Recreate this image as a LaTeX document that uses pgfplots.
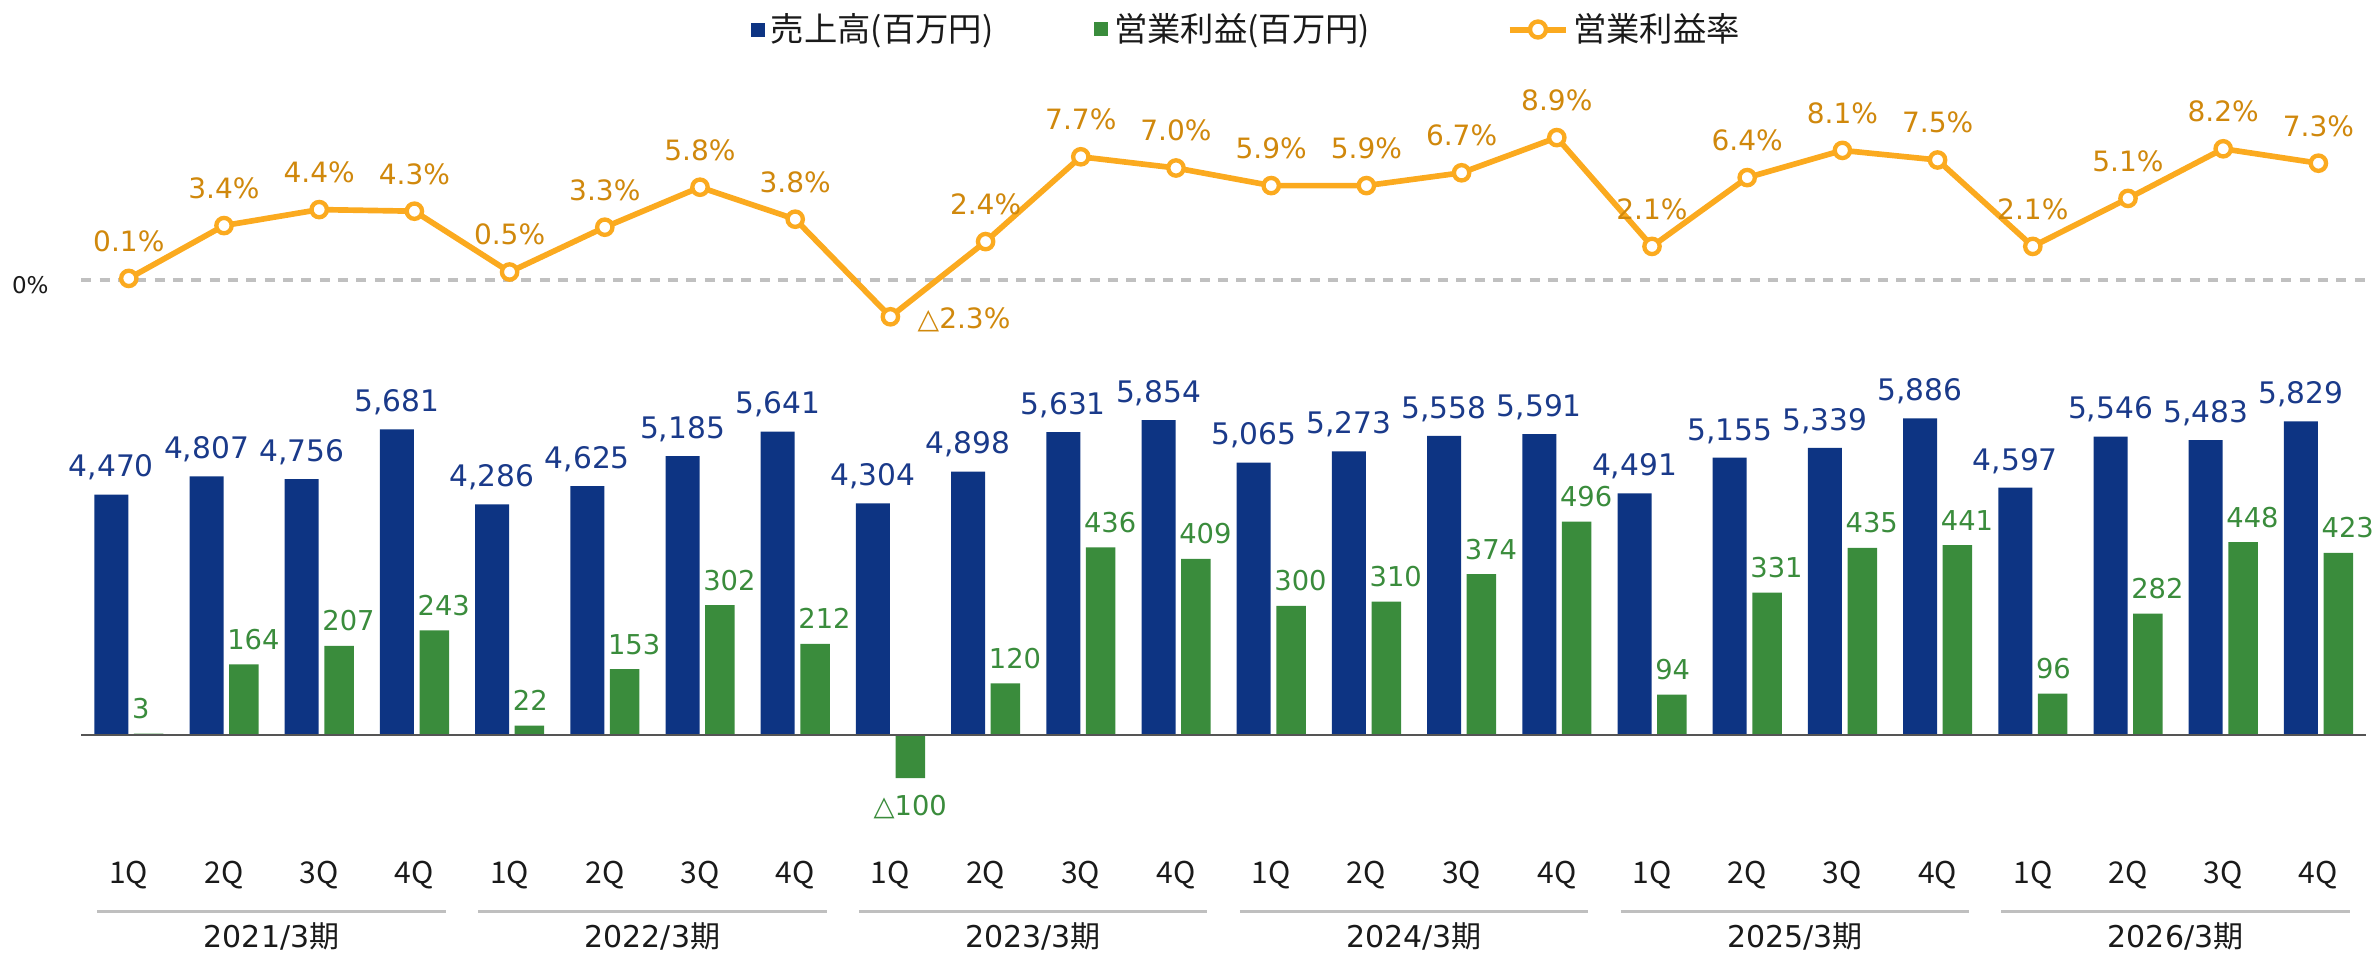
\documentclass[border=0pt]{standalone}
\usepackage{fontspec}
\setmainfont{DejaVu Sans}
\newfontfamily\jp{Noto Sans CJK JP}
\usepackage{pgfplots}
\pgfplotsset{compat=1.18}
\usepackage{pgfplotstable}

\definecolor{cBlue}{HTML}{0D3483}
\definecolor{cBlueT}{HTML}{1A3A8A}
\definecolor{cGreen}{HTML}{3A8C3C}
\definecolor{cGreenT}{HTML}{3A8C3C}
\definecolor{cOrange}{HTML}{FBAA1F}
\definecolor{cOrangeT}{HTML}{D0880C}
\definecolor{cDash}{HTML}{C0C0C0}
\definecolor{cGroup}{HTML}{BFBFBF}
\definecolor{cBase}{HTML}{555555}
\definecolor{cText}{HTML}{1A1A1A}

\pgfplotstableread{
x rev revlab prof proflab mar marlab
0 4470 4,470 3 3 0.1 0.1
1 4807 4,807 164 164 3.4 3.4
2 4756 4,756 207 207 4.4 4.4
3 5681 5,681 243 243 4.3 4.3
4 4286 4,286 22 22 0.5 0.5
5 4625 4,625 153 153 3.3 3.3
6 5185 5,185 302 302 5.8 5.8
7 5641 5,641 212 212 3.8 3.8
8 4304 4,304 -100 △100 -2.3 △2.3
9 4898 4,898 120 120 2.4 2.4
10 5631 5,631 436 436 7.7 7.7
11 5854 5,854 409 409 7.0 7.0
12 5065 5,065 300 300 5.9 5.9
13 5273 5,273 310 310 5.9 5.9
14 5558 5,558 374 374 6.7 6.7
15 5591 5,591 496 496 8.9 8.9
16 4491 4,491 94 94 2.1 2.1
17 5155 5,155 331 331 6.4 6.4
18 5339 5,339 435 435 8.1 8.1
19 5886 5,886 441 441 7.5 7.5
20 4597 4,597 96 96 2.1 2.1
21 5546 5,546 282 282 5.1 5.1
22 5483 5,483 448 448 8.2 8.2
23 5829 5,829 423 423 7.3 7.3
}\data

\begin{document}
\begin{tikzpicture}
\path[use as bounding box] (0,0) rectangle (713.1pt,286.8pt);

% ---------- revenue bars ----------
\begin{axis}[
  at={(24.36pt,42.09pt)}, anchor=south west,
  scale only axis, width=685.44pt, height=129.12pt,
  xmin=-0.5, xmax=23.5, ymin=-1500, ymax=6500,
  axis line style={draw=none}, ytick=\empty,
  xtick={0,...,23},
  xticklabels={1Q,2Q,3Q,4Q,1Q,2Q,3Q,4Q,1Q,2Q,3Q,4Q,1Q,2Q,3Q,4Q,1Q,2Q,3Q,4Q,1Q,2Q,3Q,4Q},
  major tick length=0pt,
  xticklabel style={font=\jp\fontsize{9}{10}\selectfont, anchor=base, yshift=-20.19pt, text=cText},
  clip=false,
  legend style={at={(0.29315,1.8267)}, anchor=west, draw=none, fill=none,
    inner sep=0pt, outer sep=0pt, nodes={inner sep=0pt},
    font=\jp\fontsize{10}{12}\selectfont, text=cText},
]
\addplot[ybar, bar width=10.2pt, bar shift=-5.25pt, fill=cBlue, draw=none,
  legend image code/.code={\fill[cBlue] (0pt,-2.1pt) rectangle (4.2pt,2.1pt); \path (6pt,0pt);}]
  table[x=x,y=rev]{\data};
\addlegendentry{売上高(百万円)}
\addplot[draw=none, mark=none, forget plot, nodes near coords, point meta=explicit symbolic,
  nodes near coords style={anchor=base, xshift=-5.25pt, yshift=5.3pt, inner sep=0pt,
    font=\fontsize{8.9}{10}\selectfont, text=cBlueT}]
  table[x=x,y=rev,meta=revlab]{\data};
% fiscal-year groups
\draw[cGroup, line width=0.8pt] (axis cs:-0.33,-3284) -- (axis cs:3.33,-3284);
\draw[cGroup, line width=0.8pt] (axis cs:3.67,-3284) -- (axis cs:7.33,-3284);
\draw[cGroup, line width=0.8pt] (axis cs:7.67,-3284) -- (axis cs:11.33,-3284);
\draw[cGroup, line width=0.8pt] (axis cs:11.67,-3284) -- (axis cs:15.33,-3284);
\draw[cGroup, line width=0.8pt] (axis cs:15.67,-3284) -- (axis cs:19.33,-3284);
\draw[cGroup, line width=0.8pt] (axis cs:19.67,-3284) -- (axis cs:23.33,-3284);
\node[anchor=base, font=\fontsize{9}{10}\selectfont, text=cText] at (axis cs:1.5,-3959) {2021/3{\jp 期}};
\node[anchor=base, font=\fontsize{9}{10}\selectfont, text=cText] at (axis cs:5.5,-3959) {2022/3{\jp 期}};
\node[anchor=base, font=\fontsize{9}{10}\selectfont, text=cText] at (axis cs:9.5,-3959) {2023/3{\jp 期}};
\node[anchor=base, font=\fontsize{9}{10}\selectfont, text=cText] at (axis cs:13.5,-3959) {2024/3{\jp 期}};
\node[anchor=base, font=\fontsize{9}{10}\selectfont, text=cText] at (axis cs:17.5,-3959) {2025/3{\jp 期}};
\node[anchor=base, font=\fontsize{9}{10}\selectfont, text=cText] at (axis cs:21.5,-3959) {2026/3{\jp 期}};
\end{axis}

% ---------- operating profit bars ----------
\begin{axis}[
  at={(24.36pt,42.09pt)}, anchor=south west,
  scale only axis, width=685.44pt, height=129.12pt,
  xmin=-0.5, xmax=23.5, ymin=-187.5, ymax=812.5,
  hide axis, clip=false,
  legend style={at={(0.4434,1.8267)}, anchor=west, draw=none, fill=none,
    inner sep=0pt, outer sep=0pt, nodes={inner sep=0pt},
    font=\jp\fontsize{10}{12}\selectfont, text=cText},
]
\addplot[ybar, bar width=8.85pt, bar shift=5.955pt, fill=cGreen, draw=none,
  legend image code/.code={\fill[cGreen] (0pt,-2.1pt) rectangle (4.2pt,2.1pt); \path (6pt,0pt);}]
  table[x=x,y=prof]{\data};
\addlegendentry{営業利益(百万円)}
\addplot[draw=none, mark=none, forget plot, restrict y to domain=0:1000,
  nodes near coords, point meta=explicit symbolic,
  nodes near coords style={anchor=base west, xshift=0.78pt, yshift=4.5pt, inner sep=0pt,
    font=\fontsize{8.2}{10}\selectfont, text=cGreenT}]
  table[x=x,y=prof,meta=proflab]{\data};
\addplot[draw=none, mark=none, forget plot, restrict y to domain=-1000:-1,
  nodes near coords, point meta=explicit symbolic,
  nodes near coords style={anchor=north, xshift=5.955pt, yshift=-5.1pt, inner sep=0pt,
    font=\fontsize{8.2}{10}\selectfont, text=cGreenT}]
  table[x=x,y=prof,meta=proflab]{\data};
\draw[cBase, line width=0.7pt] (axis cs:-0.5,0) -- (axis cs:23.5,0);
\end{axis}

% ---------- operating margin line ----------
\begin{axis}[
  at={(24.36pt,183.6pt)}, anchor=south west,
  scale only axis, width=685.44pt, height=72pt,
  xmin=-0.5, xmax=23.5, ymin=-4, ymax=11,
  axis line style={draw=none}, xtick=\empty,
  ytick={0}, yticklabels={0\%}, major tick length=0pt,
  yticklabel style={anchor=east, inner sep=0pt, xshift=-9.6pt, yshift=-1.5pt,
    font=\fontsize{6.9}{8}\selectfont, text=cText},
  clip=false,
  legend style={at={(0.6239,1.3104)}, anchor=west, draw=none, fill=none,
    inner sep=0pt, outer sep=0pt, nodes={inner sep=0pt},
    font=\jp\fontsize{10}{12}\selectfont, text=cText},
]
\draw[cDash, line width=1pt, dash pattern=on 3pt off 2.5pt] (axis cs:-0.5,0) -- (axis cs:23.5,0);
\addplot[cOrange, line width=1.7pt, mark=*, mark size=2.3pt,
  mark options={fill=white, draw=cOrange, line width=1.3pt, solid},
  legend image code/.code={\draw[cOrange, line width=1.8pt] (0pt,0pt) -- (17pt,0pt);
    \draw[cOrange, fill=white, line width=1.3pt] (8.5pt,0pt) circle (2.4pt); \path (18.2pt,0pt);}]
  table[x=x,y=mar]{\data};
\addlegendentry{営業利益率}
\addplot[draw=none, mark=none, forget plot, restrict y to domain=0:100,
  nodes near coords={\pgfplotspointmeta\%}, point meta=explicit symbolic,
  nodes near coords style={anchor=base, yshift=8.1pt, inner sep=0pt,
    font=\fontsize{8.4}{10}\selectfont, text=cOrangeT}]
  table[x=x,y=mar,meta=marlab]{\data};
\addplot[draw=none, mark=none, forget plot, restrict y to domain=-100:-0.01,
  nodes near coords={\pgfplotspointmeta\%}, point meta=explicit symbolic,
  nodes near coords style={anchor=west, xshift=8pt, yshift=-1pt, inner sep=0pt,
    font=\fontsize{8.4}{10}\selectfont, text=cOrangeT}]
  table[x=x,y=mar,meta=marlab]{\data};
\end{axis}
\end{tikzpicture}
\end{document}
